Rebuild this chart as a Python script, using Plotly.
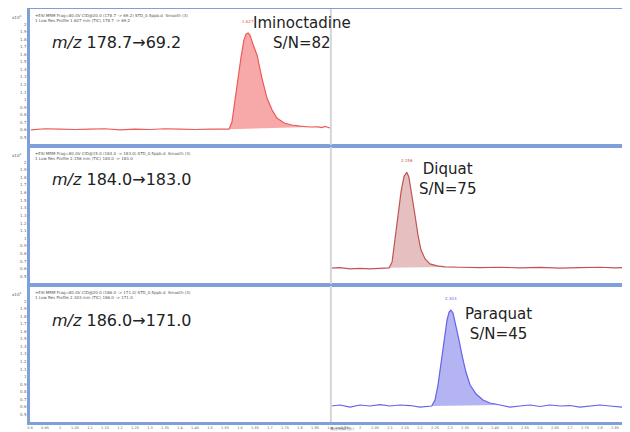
import plotly.graph_objects as go

# ---------------- data (retention time in min, intensity x10^4 counts) ----------------
imino_t = [0.903, 0.95, 1.0, 1.05, 1.1, 1.15, 1.2, 1.25, 1.3, 1.35, 1.4, 1.45, 1.5, 1.55,
           1.563, 1.573, 1.583, 1.593, 1.603, 1.613, 1.620, 1.627, 1.633, 1.643, 1.657, 1.673,
           1.690, 1.707, 1.723, 1.747, 1.773, 1.80, 1.833, 1.86, 1.873, 1.883, 1.9]
imino_i = [0.60, 0.615, 0.61, 0.605, 0.61, 0.615, 0.60, 0.61, 0.605, 0.615, 0.61, 0.605, 0.61, 0.612,
           0.61, 0.70, 0.99, 1.286, 1.551, 1.789, 1.868, 1.881, 1.855, 1.736, 1.59, 1.286,
           1.021, 0.863, 0.757, 0.691, 0.665, 0.651, 0.638, 0.64, 0.63, 0.645, 0.625]

diquat_t = [1.903, 1.933, 1.967, 2.0, 2.033, 2.067, 2.097, 2.107, 2.117, 2.127, 2.137, 2.147,
            2.156, 2.163, 2.173, 2.183, 2.193, 2.203, 2.217, 2.233, 2.257, 2.283, 2.333, 2.4,
            2.467, 2.533, 2.6, 2.667, 2.733, 2.8, 2.85, 2.9]
diquat_i = [0.61, 0.615, 0.60, 0.605, 0.60, 0.61, 0.612, 0.69, 0.982, 1.313, 1.617, 1.815,
            1.868, 1.802, 1.577, 1.313, 1.048, 0.85, 0.73, 0.665, 0.638, 0.625, 0.62, 0.615,
            0.62, 0.612, 0.618, 0.61, 0.615, 0.62, 0.612, 0.618]

paraquat_t = [1.903, 1.933, 1.967, 2.0, 2.033, 2.067, 2.1, 2.133, 2.167, 2.2, 2.239, 2.25, 2.26,
              2.27, 2.28, 2.29, 2.297, 2.303, 2.31, 2.32, 2.33, 2.34, 2.353, 2.367, 2.387, 2.41,
              2.433, 2.467, 2.5, 2.533, 2.567, 2.6, 2.633, 2.667, 2.7, 2.733, 2.767, 2.8, 2.833,
              2.867, 2.9]
paraquat_i = [0.612, 0.625, 0.598, 0.625, 0.612, 0.631, 0.612, 0.625, 0.618, 0.598, 0.612, 0.691,
              0.889, 1.194, 1.511, 1.749, 1.855, 1.881, 1.842, 1.683, 1.485, 1.286, 1.061, 0.889,
              0.770, 0.691, 0.651, 0.625, 0.598, 0.612, 0.625, 0.605, 0.625, 0.612, 0.618, 0.598,
              0.612, 0.625, 0.612, 0.598, 0.585]

# peak integration windows (start, end) in min
imino_peak = (1.563, 1.833)
diquat_peak = (2.097, 2.283)
paraquat_peak = (2.239, 2.467)
peak_rt = ["1.627", "2.156", "2.303"]

compounds = ["Iminoctadine", "Diquat", "Paraquat"]
sn_values = [82, 75, 45]
transitions = ["178.7→69.2", "184.0→183.0", "186.0→171.0"]
headers = [
    ["+ESI MRM Frag=80.0V CID@20.0 (178.7 -> 69.2) STD_0.5ppb.d  Smooth (3)",
     "1 Low Res Profile 1.627 min (TIC) 178.7 -> 69.2"],
    ["+ESI MRM Frag=80.0V CID@15.0 (184.0 -> 183.0) STD_0.5ppb.d  Smooth (3)",
     "1 Low Res Profile 2.156 min (TIC) 184.0 -> 183.0"],
    ["+ESI MRM Frag=80.0V CID@20.0 (186.0 -> 171.0) STD_0.5ppb.d  Smooth (3)",
     "1 Low Res Profile 2.303 min (TIC) 186.0 -> 171.0"],
]
y_ticks = [0.5, 0.6, 0.7, 0.8, 0.9, 1.0, 1.1, 1.2, 1.3, 1.4, 1.5, 1.6, 1.7, 1.8, 1.9, 2.0]
x_label = "保持時間 (分)"

# ---------------- styles ----------------
line_colors = ["#ec5a5a", "#c05454", "#6464e6"]
fill_colors = ["rgba(244,140,140,0.75)", "rgba(214,150,150,0.6)", "rgba(140,140,235,0.65)"]
border = "#7e9fd9"
series = [(imino_t, imino_i, imino_peak), (diquat_t, diquat_i, diquat_peak),
          (paraquat_t, paraquat_i, paraquat_peak)]
domains = [[0.6707, 1.0], [0.3341, 0.6659], [0.0, 0.3293]]
XR = [0.9, 2.9]
YR = [0.4, 2.2]

fig = go.Figure()
for k, (t, v, (ps, pe)) in enumerate(series):
    xa = "x" if k == 0 else f"x{k+1}"
    ya = "y" if k == 0 else f"y{k+1}"
    pt = [a for a in t if ps <= a <= pe]
    pv = [b for a, b in zip(t, v) if ps <= a <= pe]
    fig.add_trace(go.Scatter(x=pt, y=pv, mode="lines", fill="toself",
                             fillcolor=fill_colors[k], line=dict(width=0),
                             xaxis=xa, yaxis=ya, hoverinfo="skip", showlegend=False))
    fig.add_trace(go.Scatter(x=t, y=v, mode="lines",
                             line=dict(color=line_colors[k], width=1.2),
                             xaxis=xa, yaxis=ya, showlegend=False))

# the page body adds an 8px margin, so the figure is sized to fill the rest of the window
layout = dict(width=622, height=424, margin=dict(l=22, r=0, t=1, b=10),
              paper_bgcolor="white", plot_bgcolor="white",
              font=dict(family="DejaVu Sans", color="#222"))
for k in range(3):
    sx = "" if k == 0 else str(k + 1)
    layout["xaxis" + sx] = dict(range=XR, anchor="y" + sx, domain=[0, 1], automargin=False,
                                showline=True, linecolor=border, linewidth=2.5, mirror=True,
                                showgrid=False, zeroline=False, ticks="",
                                showticklabels=(k == 2), dtick=0.05, tick0=0.9,
                                tickfont=dict(size=3.5, color="#666"), ticklabelstandoff=0)
    layout["yaxis" + sx] = dict(range=YR, anchor="x" + sx, domain=domains[k], automargin=False,
                                showline=True, linecolor=border, linewidth=2.5,
                                showgrid=False, zeroline=False, ticks="",
                                tickvals=y_ticks, tickfont=dict(size=4, color="#666"))
fig.update_layout(**layout)

annotations = []
shapes = []
for k in range(3):
    sx = "" if k == 0 else str(k + 1)
    xr, yr = "x" + sx, "y" + sx
    # vertical separator
    shapes.append(dict(type="line", xref=xr, yref=yr + " domain", x0=1.903, x1=1.903,
                       y0=0, y1=1, line=dict(color="#d6d6d6", width=2)))
    shapes.append(dict(type="line", xref=xr, yref=yr + " domain", x0=2.893, x1=2.893,
                       y0=0.84, y1=0.87, line=dict(color="#bbbbbb", width=2)))
    annotations.append(dict(xref=xr, yref=yr, x=0.967,
                            y=[1.762, 1.776, 1.749][k], xanchor="left", yanchor="middle",
                            text="<i>m/z</i> " + transitions[k], showarrow=False,
                            font=dict(size=16, color="#222")))
    annotations.append(dict(xref=xr, yref=yr, x=[1.807, 2.29, 2.46][k],
                            y=[1.881, 1.776, 1.696][k], xanchor="center", yanchor="middle",
                            text=f"{compounds[k]}<br>S/N={sn_values[k]}", showarrow=False,
                            font=dict(size=15, color="#222")))
    annotations.append(dict(xref=xr, yref=yr, x=[1.627, 2.156, 2.303][k],
                            y=[1.881, 1.868, 1.881][k], yshift=7, xanchor="center",
                            yanchor="bottom", text=peak_rt[k], showarrow=False,
                            font=dict(size=4, color=line_colors[k])))
    for j, h in enumerate(headers[k]):
        annotations.append(dict(xref="x" + sx + " domain", yref=yr + " domain", x=0.005,
                                y=1 - 0.012 - j * 0.036, xanchor="left", yanchor="top",
                                text=h, showarrow=False, font=dict(size=4, color="#555")))
    annotations.append(dict(xref="paper", yref=yr + " domain", x=-0.012, y=0.94,
                            xanchor="right", yanchor="middle", text="x10<sup>4</sup>",
                            showarrow=False, font=dict(size=4, color="#555")))
annotations.append(dict(xref="paper", yref="paper", x=0.52, y=-10 / 413, xanchor="center",
                        yanchor="bottom", text=x_label, showarrow=False, borderpad=0,
                        font=dict(size=3.5, color="#555")))
fig.update_layout(annotations=annotations, shapes=shapes)

fig.write_html("out.html")
